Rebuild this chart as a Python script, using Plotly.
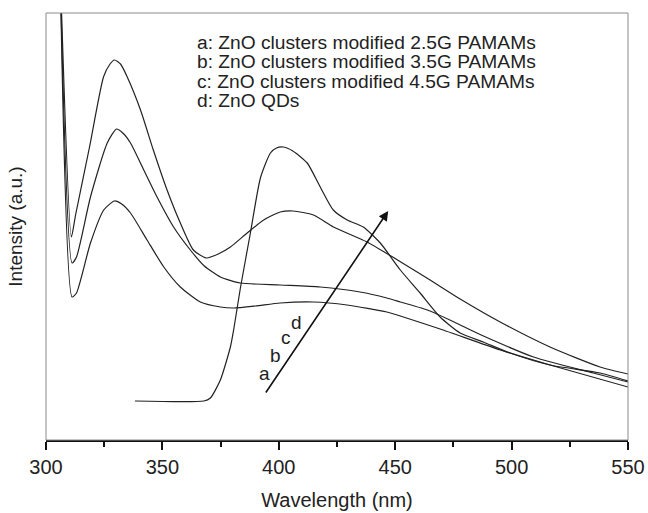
import plotly.graph_objects as go

# ---- data (wavelength nm, intensity a.u.) ----
a_x = [306, 311.2, 313.1, 319.1, 324.8, 329.4, 332.5, 336.3, 343.4, 350.6, 357.7, 366.3, 374.9, 380.6,
       390, 400.6, 414.9, 429.3, 446.4, 452.2, 469.3, 495.1, 516.5, 550]
a_y = [483, 143, 147, 197, 230, 239, 236, 227, 200, 173, 153, 138, 133, 132,
       134, 137, 138, 135, 128, 124, 111, 90, 75, 53]

b_x = [306, 311.2, 313.1, 319.1, 326.3, 330.3, 333, 336.3, 342, 347.7, 354.8, 362, 368, 374.9,
       383.5, 400.6, 417.8, 434.9, 446.4, 452.2, 465, 487.9, 509.4, 535.1, 550]
b_y = [476, 177, 183, 243, 297, 311, 307, 297, 270, 243, 213, 190, 174, 163,
       157, 155, 153, 148, 142, 138, 129, 104, 83, 67, 58]

c_x = [306, 310.9, 312.7, 318.7, 324.7, 327.5, 329.4, 332, 334.9, 340.6, 346.1, 352.0, 357.7, 363.3,
       368.8, 374, 379.2, 386.4, 393.5, 400.6, 406.2, 414.9, 423.5, 437.9, 451, 465, 477.9,
       495.1, 516.5, 538, 550]
c_y = [477, 203, 225, 293, 363, 376, 380, 376, 363, 330, 290, 250, 217, 190,
       182, 186, 193, 207, 220, 228, 229, 225, 213, 198, 180, 160, 141,
       118, 93, 73, 66]

d_x = [338.2, 367.8, 370.6, 374.9, 379.2, 380.6, 383.5, 387.8, 392.1, 396.4, 399, 402, 406, 412.2,
       417.8, 423.4, 429.4, 436.3, 443.6, 452.2, 460.7, 469.3, 477.9, 487.8, 499.4, 516.5, 538, 550]
d_y = [39, 39, 42, 60, 93, 110, 152, 207, 262, 287, 292, 293, 289, 277,
       253, 230, 220, 213, 197, 170, 147, 123, 107, 98, 87, 75, 67, 59]

legend_lines = ["a: ZnO clusters modified 2.5G PAMAMs",
                "b: ZnO clusters modified 3.5G PAMAMs",
                "c: ZnO clusters modified 4.5G PAMAMs",
                "d: ZnO QDs"]
legend_x = 363.8
legend_y = [398, 378.5, 359, 339.5]

curve_labels = ["a", "b", "c", "d"]
curve_label_x = [393.7, 398.7, 403.2, 407.7]
curve_label_y = [67, 85, 103, 118]

arrow_tail = (394.0, 46)
arrow_tip = (447.0, 229)

x_ticks = [300, 350, 400, 450, 500, 550]

FONT = "Liberation Sans, Arial, Helvetica, sans-serif"
LINE = dict(color="#222222", width=1.2)

fig = go.Figure()
for xs, ys in [(a_x, a_y), (b_x, b_y), (c_x, c_y), (d_x, d_y)]:
    fig.add_trace(go.Scatter(x=xs, y=ys, mode="lines", line=dict(**LINE, shape="spline", smoothing=0.6),
                             showlegend=False, hoverinfo="skip", cliponaxis=True))

for t, yy in zip(legend_lines, legend_y):
    fig.add_annotation(x=legend_x, y=yy, xref="x", yref="y", text=t, showarrow=False,
                       xanchor="left", yanchor="middle", font=dict(family=FONT, size=19.2, color="#222"))

for t, xx, yy in zip(curve_labels, curve_label_x, curve_label_y):
    fig.add_annotation(x=xx, y=yy, xref="x", yref="y", text=t, showarrow=False,
                       xanchor="center", yanchor="middle", font=dict(family=FONT, size=19, color="#222"))

fig.add_annotation(x=arrow_tip[0], y=arrow_tip[1], ax=arrow_tail[0], ay=arrow_tail[1],
                   xref="x", yref="y", axref="x", ayref="y", text="", showarrow=True,
                   arrowhead=2, arrowsize=1.2, arrowwidth=1.6, arrowcolor="#111")

# frame
fig.add_shape(type="rect", xref="paper", yref="paper", x0=0, y0=0, x1=1, y1=1,
              line=dict(color="#8a8a8a", width=1), layer="above")

fig.update_layout(
    width=648, height=513,
    margin=dict(l=45.5, r=20, t=13, b=73),
    paper_bgcolor="white", plot_bgcolor="white",
    font=dict(family=FONT, size=20, color="#222"),
    xaxis=dict(range=[300, 550], tickvals=x_ticks, ticks="outside", ticklen=8, tickwidth=1.5,
               tickcolor="#111", showline=True, linecolor="#111", linewidth=2, showgrid=False,
               zeroline=False, tickfont=dict(size=20), automargin=False,
               minor=dict(dtick=25, tick0=300, ticks="outside", ticklen=5, tickwidth=1.5, tickcolor="#111"),
               title=dict(text="Wavelength (nm)", font=dict(size=20), standoff=16)),
    yaxis=dict(range=[0, 427], showticklabels=False, ticks="", showline=False, showgrid=False,
               zeroline=False, automargin=False,
               title=dict(text="Intensity (a.u.)", font=dict(size=19), standoff=17)),
)

fig.write_html("out.html", config={"displayModeBar": False},
               post_script="document.body.style.margin='0';document.body.style.overflow='hidden';")
